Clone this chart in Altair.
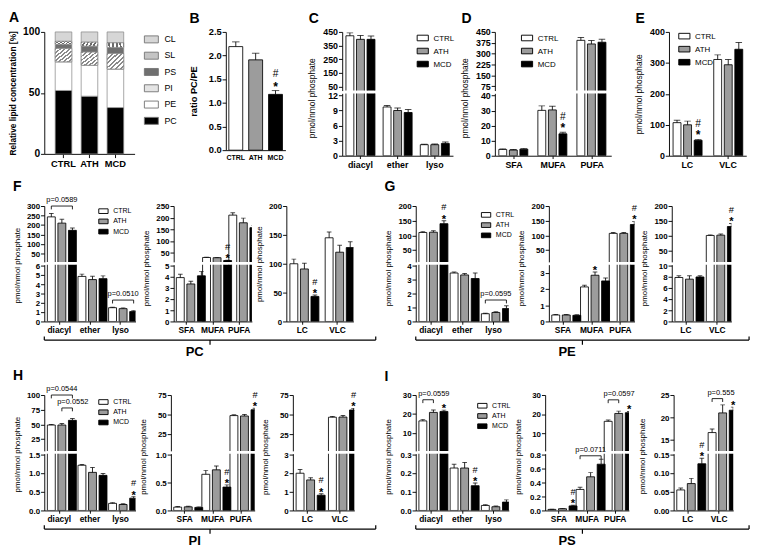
import altair as alt
import pandas as pd

FONT = "Liberation Sans"
GROUPS = ["CTRL", "ATH", "MCD"]
FILLS = ["#ffffff", "#9c9c9c", "#000000"]
YT = "pmol/nmol phosphate"
RECT = "M-1,-0.5H1V0.5H-1Z"

# ---------------- data ----------------
A_samples = ["CTRL", "ATH", "MCD"]
A_classes = ["PC", "PE", "PI", "PS", "SL", "CL"]
A_PC = [52.0, 47.3, 38.0]
A_PE = [23.5, 25.4, 31.6]
A_PI = [11.0, 10.8, 12.7]
A_PS = [3.3, 4.9, 5.0]
A_SL = [2.5, 3.2, 3.8]
A_CL = [7.7, 8.4, 8.9]
A_legend = ["CL", "SL", "PS", "PI", "PE", "PC"]
A_colors = ["#d6d6d6", "#c4c4c4", "#6f6f6f", "#e4e4e4", "#ffffff", "#000000"]
A_ticks = [0, 50, 100]

B_mean = [2.19, 1.91, 1.18]
B_err = [0.10, 0.14, 0.08]
B_marks = [("MCD", "#*")]
B_ticks = [0, 0.5, 1.0, 1.5, 2.0, 2.5]

C_cats = ["diacyl", "ether", "lyso"]
C_CTRL = [422, 9.7, 2.2]
C_ATH = [396, 9.0, 2.2]
C_MCD = [396, 8.6, 2.45]
C_eCTRL = [21, 0.3, 0.1]
C_eATH = [28, 0.5, 0.15]
C_eMCD = [24, 0.6, 0.3]
C_marks = []
C_brackets = []
C_ttop = [50, 150, 250, 350, 450]
C_tbot = [0, 3, 6, 9, 12]

D_cats = ["SFA", "MUFA", "PUFA"]
D_CTRL = [4.2, 30.2, 392]
D_ATH = [3.8, 30.5, 367]
D_MCD = [4.4, 14.6, 379]
D_eCTRL = [0.4, 3.0, 20]
D_eATH = [0.4, 2.5, 24]
D_eMCD = [0.5, 1.0, 20]
D_marks = [("MUFA", "MCD", "#*")]
D_brackets = []
D_ttop = [75, 150, 225, 300, 375, 450]
D_tbot = [0, 10, 20, 30, 40]

E_cats = ["LC", "VLC"]
E_CTRL = [107, 311]
E_ATH = [100, 294]
E_MCD = [50, 344]
E_eCTRL = [8, 15]
E_eATH = [12, 17]
E_eMCD = [3, 22]
E_marks = [("LC", "MCD", "#*")]
E_brackets = []
E_ticks = [0, 100, 200, 300, 400]

F1_cats = ["diacyl", "ether", "lyso"]
F1_CTRL = [243, 4.84, 1.48]
F1_ATH = [210, 4.5, 1.38]
F1_MCD = [172, 4.6, 1.06]
F1_eCTRL = [18, 0.25, 0.05]
F1_eATH = [20, 0.35, 0.08]
F1_eMCD = [12, 0.3, 0.1]
F1_marks = []
F1_brackets = [("diacyl", "CTRL", "MCD", 300, "p=0.0589"), ("lyso", "CTRL", "MCD", 2.3, "p=0.0510")]
F1_ttop = [50, 100, 150, 200, 250, 300]
F1_tbot = [0, 1, 2, 3, 4, 5, 6]

F2_cats = ["SFA", "MUFA", "PUFA"]
F2_CTRL = [3.94, 29, 211]
F2_ATH = [3.37, 28, 178]
F2_MCD = [4.1, 16, 157]
F2_eCTRL = [0.3, 1.5, 10]
F2_eATH = [0.25, 1.5, 20]
F2_eMCD = [0.4, 1.2, 10]
F2_marks = [("MUFA", "MCD", "#*")]
F2_brackets = []
F2_ttop = [50, 100, 150, 200, 250]
F2_tbot = [0, 1, 2, 3, 4, 5]

F3_cats = ["LC", "VLC"]
F3_CTRL = [100, 145]
F3_ATH = [91, 120]
F3_MCD = [43.4, 128]
F3_eCTRL = [8, 10]
F3_eATH = [10, 12]
F3_eMCD = [2.5, 10]
F3_marks = [("LC", "MCD", "#*")]
F3_brackets = []
F3_ticks = [0, 50, 100, 150, 200]

G1_cats = ["diacyl", "ether", "lyso"]
G1_CTRL = [110, 3.5, 0.56]
G1_ATH = [111, 3.36, 0.65]
G1_MCD = [140, 3.1, 0.93]
G1_eCTRL = [3, 0.07, 0.04]
G1_eATH = [5, 0.1, 0.05]
G1_eMCD = [10, 0.4, 0.2]
G1_marks = [("diacyl", "MCD", "#*")]
G1_brackets = [("lyso", "CTRL", "MCD", 1.55, "p=0.0595")]
G1_ttop = [50, 100, 150, 200]
G1_tbot = [0, 1, 2, 3, 4]

G2_cats = ["SFA", "MUFA", "PUFA"]
G2_CTRL = [0.4, 2.13, 107]
G2_ATH = [0.4, 2.85, 107]
G2_MCD = [0.38, 2.5, 137]
G2_eCTRL = [0.03, 0.1, 3]
G2_eATH = [0.03, 0.2, 3]
G2_eMCD = [0.03, 0.18, 10]
G2_marks = [("MUFA", "ATH", "*"), ("PUFA", "MCD", "#*")]
G2_brackets = []
G2_ttop = [50, 100, 150, 200]
G2_tbot = [0, 1, 2, 3]

G3_cats = ["LC", "VLC"]
G3_CTRL = [7.9, 101]
G3_ATH = [7.6, 102]
G3_MCD = [8.0, 131]
G3_eCTRL = [0.3, 2]
G3_eATH = [0.6, 4]
G3_eMCD = [0.2, 10]
G3_marks = [("VLC", "MCD", "#*")]
G3_brackets = []
G3_ttop = [50, 100, 150, 200]
G3_tbot = [0, 2, 4, 6, 8, 10]

H1_cats = ["diacyl", "ether", "lyso"]
H1_CTRL = [49, 1.21, 0.19]
H1_ATH = [49, 1.02, 0.16]
H1_MCD = [57, 0.94, 0.33]
H1_eCTRL = [1, 0.02, 0.02]
H1_eATH = [2.5, 0.13, 0.02]
H1_eMCD = [3, 0.05, 0.04]
H1_marks = [("lyso", "MCD", "#*")]
H1_brackets = [("diacyl", "CTRL", "MCD", 100, "p=0.0544"), ("diacyl", "ATH", "MCD", 78, "p=0.0552")]
H1_ttop = [25, 50, 75, 100]
H1_tbot = [0, 0.5, 1.0, 1.5]

H2_cats = ["SFA", "MUFA", "PUFA"]
H2_CTRL = [0.06, 0.65, 48.5]
H2_ATH = [0.065, 0.73, 48]
H2_MCD = [0.055, 0.42, 56]
H2_eCTRL = [0.01, 0.07, 1]
H2_eATH = [0.01, 0.07, 2]
H2_eMCD = [0.01, 0.04, 2]
H2_marks = [("MUFA", "MCD", "#*"), ("PUFA", "MCD", "#*")]
H2_brackets = []
H2_ttop = [25, 50, 75]
H2_tbot = [0, 0.5, 1.0]

H3_cats = ["LC", "VLC"]
H3_CTRL = [2.0, 46.8]
H3_ATH = [1.64, 47]
H3_MCD = [0.82, 56]
H3_eCTRL = [0.2, 1]
H3_eATH = [0.12, 2]
H3_eMCD = [0.08, 2]
H3_marks = [("LC", "MCD", "#*"), ("VLC", "MCD", "#*")]
H3_brackets = []
H3_ttop = [25, 50, 75]
H3_tbot = [0, 1, 2, 3]

I1_cats = ["diacyl", "ether", "lyso"]
I1_CTRL = [16.3, 0.228, 0.027]
I1_ATH = [20.8, 0.228, 0.02]
I1_MCD = [21.3, 0.133, 0.045]
I1_eCTRL = [0.8, 0.02, 0.004]
I1_eATH = [1.3, 0.03, 0.004]
I1_eMCD = [0.7, 0.015, 0.012]
I1_marks = [("diacyl", "MCD", "*"), ("ether", "MCD", "#*")]
I1_brackets = [("diacyl", "CTRL", "ATH", 27.5, "p=0.0559")]
I1_ttop = [10, 20, 30]
I1_tbot = [0, 0.1, 0.2, 0.3]

I2_cats = ["SFA", "MUFA", "PUFA"]
I2_CTRL = [0.015, 0.3, 16.3]
I2_ATH = [0.025, 0.48, 20.4]
I2_MCD = [0.065, 0.66, 20.8]
I2_eCTRL = [0.003, 0.03, 0.7]
I2_eATH = [0.005, 0.06, 1.2]
I2_eMCD = [0.01, 0.07, 0.6]
I2_marks = [("SFA", "MCD", "#*"), ("PUFA", "MCD", "*")]
I2_brackets = [("MUFA", "CTRL", "MCD", 0.78, "p=0.0711"), ("PUFA", "CTRL", "ATH", 27.5, "p=0.0597")]
I2_ttop = [10, 20, 30]
I2_tbot = [0, 0.2, 0.4, 0.6, 0.8]

I3_cats = ["LC", "VLC"]
I3_CTRL = [0.055, 16.6]
I3_ATH = [0.072, 21.0]
I3_MCD = [0.125, 21.6]
I3_eCTRL = [0.005, 0.8]
I3_eATH = [0.014, 1.8]
I3_eMCD = [0.015, 0.7]
I3_marks = [("LC", "MCD", "#*"), ("VLC", "MCD", "*")]
I3_brackets = [("VLC", "CTRL", "ATH", 24.2, "p=0.555")]
I3_ttop = [15, 20, 25]
I3_tbot = [0, 0.05, 0.10, 0.15]

# ---------------- styles ----------------
ST1 = dict(yl=9.5, yt=9, xl=9.5, ht=63, hb=67, gap=3, star=13, sdy=0, hdy=-13, hash=11,
           leg=8.5, ss=144, rp=2, bl=8, cap=7)
ST2 = dict(yl=8.5, yt=8.5, xl=9, ht=60, hb=61, gap=3, star=12, sdy=2, hdy=-11, hash=10,
           leg=7.5, ss=100, rp=1, bl=8, cap=5)


def indep(c):
    return c.resolve_scale(color="independent", x="independent", y="independent").resolve_legend(color="independent")


def letter(L, off=2):
    return alt.TitleParams(text=L, anchor="start", font=FONT, fontSize=15, fontWeight="bold",
                           color="black", offset=off)


def mk(cats, means, errs, marks, brackets, **kw):
    rows = []
    for g, ms, es in zip(GROUPS, means, errs):
        for c, m, e in zip(cats, ms, es):
            rows.append({"cat": c, "grp": g, "val": m, "hi": m + e})
    p = dict(cats=cats, df=pd.DataFrame(rows), marks=marks, brackets=brackets)
    p.update(kw)
    return p


def leg(x, y, st):
    return alt.Legend(title=None, orient="none", legendX=x, legendY=y, direction="vertical",
                      symbolType=RECT, symbolSize=st["ss"], symbolStrokeColor="black",
                      symbolStrokeWidth=1, symbolOpacity=1, labelFont=FONT,
                      labelFontSize=st["leg"], labelColor="black", rowPadding=st["rp"],
                      labelOffset=5)


def seg(p, dom, ticks, h, show_x, st, fmt=None, legend=None, ytitle=None):
    df = p["df"]
    lo, up = dom
    ysc = alt.Scale(domain=list(dom), nice=False, zero=False)
    ykw = dict(values=list(ticks), title=ytitle, grid=False, labelFont=FONT,
               labelFontSize=st["yl"], labelFontWeight="bold", labelColor="black",
               labelPadding=1, tickSize=4, tickColor="black", tickWidth=1,
               domainColor="black", domainWidth=1, minExtent=p["ext"], maxExtent=p["ext"],
               titleFont=FONT, titleFontSize=st["yt"], titleFontWeight="normal",
               titleColor="black", titlePadding=3)
    if fmt:
        ykw["format"] = fmt
    yax = alt.Axis(**ykw)
    if show_x:
        xax = alt.Axis(labelAngle=0, labelFont=FONT, labelFontSize=st["xl"], labelFontWeight="bold",
                       labelColor="black", labelPadding=2, tickSize=3, tickColor="black",
                       tickWidth=1, domainColor="black", domainWidth=1, grid=False, title=None)
    else:
        xax = None
    X = alt.X("cat:N", sort=p["cats"], title=None,
              scale=alt.Scale(domain=p["cats"], paddingInner=p.get("pin", 0.22),
                              paddingOuter=p.get("pout", 0.1)), axis=xax)
    XO = alt.XOffset("grp:N", sort=GROUPS, scale=alt.Scale(domain=GROUPS, paddingInner=0.25))

    def Y(f):
        return alt.Y(f, scale=ysc, axis=yax)

    col = alt.Color("grp:N", scale=alt.Scale(domain=GROUPS, range=FILLS),
                    legend=legend if legend is not None else None)
    layers = [
        alt.Chart(df[df.val > lo]).mark_bar(stroke="black", strokeWidth=0.9, clip=True).encode(
            x=X, xOffset=XO, y=Y("val:Q"), color=col),
        alt.Chart(df[df.hi > lo]).mark_rule(color="black", strokeWidth=0.9, clip=True).encode(
            x=X, xOffset=XO, y=Y("val:Q"), y2="hi:Q"),
        alt.Chart(df[df.hi > lo]).mark_tick(color="black", thickness=1, size=st["cap"], clip=True).encode(
            x=X, xOffset=XO, y=Y("hi:Q")),
    ]
    md = []
    for c, g, s in p["marks"]:
        r = df[(df.cat == c) & (df.grp == g)].iloc[0]
        if lo <= r.hi <= up:
            md.append({"cat": c, "grp": g, "hi": r.hi, "s": s})
    if md:
        mdf = pd.DataFrame(md)
        layers.append(alt.Chart(mdf).mark_text(font=FONT, fontSize=st["star"], fontWeight="bold",
                                               dy=st["sdy"], baseline="alphabetic", color="black",
                                               text="*").encode(x=X, xOffset=XO, y=Y("hi:Q")))
        hdf = mdf[mdf.s.str.contains("#")]
        if len(hdf):
            layers.append(alt.Chart(hdf).mark_text(font=FONT, fontSize=st["hash"], dy=st["hdy"],
                                                   baseline="alphabetic", color="black",
                                                   text="#").encode(x=X, xOffset=XO, y=Y("hi:Q")))
    bl, bc, bll = [], [], []
    for i, (c, g1, g2, lev, lab) in enumerate(p["brackets"]):
        if not (lo <= lev <= up * 1.001):
            continue
        d = (up - lo) * 0.06
        for o, (g, yv) in enumerate([(g1, lev - d), (g1, lev), (g2, lev), (g2, lev - d)]):
            bl.append({"b": i, "o": o, "cat": c, "grp": g, "y": yv})
        if g1 == "CTRL" and g2 == "MCD":
            bc.append({"cat": c, "grp": "ATH", "y": lev, "lab": lab})
        else:
            bll.append({"cat": c, "grp": g1, "y": lev, "lab": lab})
    if bl:
        layers.append(alt.Chart(pd.DataFrame(bl)).mark_line(color="black", strokeWidth=0.9).encode(
            x=X, xOffset=XO, y=Y("y:Q"), detail="b:N", order="o:Q"))
    if bc:
        layers.append(alt.Chart(pd.DataFrame(bc)).mark_text(font=FONT, fontSize=st["bl"], dy=-2,
                                                            baseline="bottom", color="black").encode(
            x=X, xOffset=XO, y=Y("y:Q"), text="lab:N"))
    if bll:
        layers.append(alt.Chart(pd.DataFrame(bll)).mark_text(font=FONT, fontSize=st["bl"], dy=-2, dx=-5,
                                                             align="left", baseline="bottom",
                                                             color="black").encode(
            x=X, xOffset=XO, y=Y("y:Q"), text="lab:N"))
    return alt.layer(*layers).properties(width=p["w"], height=h)


def broken(p, st, legend=None):
    top = seg(p, p["top"], p["tt"], st["ht"], False, st, p.get("tf"), legend)
    bot = seg(p, p["bot"], p["tb"], st["hb"], True, st, p.get("bf"))
    v = indep(alt.vconcat(top, bot, spacing=st["gap"], bounds="flush"))
    return v.properties(title=alt.TitleParams(text=YT, orient="left", anchor="middle", frame="bounds",
                                              font=FONT, fontSize=st["yt"], fontWeight="normal",
                                              color="black", offset=3))


def wrap(ch, L):
    return indep(alt.vconcat(ch, spacing=0)).properties(title=letter(L))


def bracket(W):
    b = alt.Chart(pd.DataFrame({"k": [0]}))
    parts = [
        b.mark_rule(color="black", strokeWidth=1.3).encode(x=alt.value(0), x2=alt.value(W), y=alt.value(4)),
        b.mark_rule(color="black", strokeWidth=1.3).encode(x=alt.value(0), y=alt.value(0), y2=alt.value(4)),
        b.mark_rule(color="black", strokeWidth=1.3).encode(x=alt.value(W), y=alt.value(0), y2=alt.value(4)),
        b.mark_rule(color="black", strokeWidth=1.3).encode(x=alt.value(W / 2), y=alt.value(4), y2=alt.value(9)),
    ]
    return alt.layer(*parts).properties(width=W, height=9)


def group(panels, L, name, W, off):
    plots = indep(alt.hconcat(*panels, spacing=3)).properties(title=letter(L, off))
    g = indep(alt.vconcat(plots, bracket(W), spacing=1))
    return g.properties(title=alt.TitleParams(text=name, orient="bottom", anchor="middle", font=FONT,
                                              fontSize=14, fontWeight="bold", color="black", offset=0))


# ---------------- panel A ----------------
rowsA = []
for ci, (cls, vals) in enumerate(zip(A_classes, [A_PC, A_PE, A_PI, A_PS, A_SL, A_CL])):
    for s, v in zip(A_samples, vals):
        rowsA.append({"sample": s, "cls": cls, "val": v, "ord": ci})
dfA = pd.DataFrame(rowsA)


def stackA():
    return alt.Chart(dfA).transform_stack(stack="val", groupby=["sample"],
                                          sort=[alt.SortField("ord", order="ascending")],
                                          as_=["y0", "y1"])


def hatch(n, frac, c1, c2):
    stops = []
    for i in range(n):
        a, b, c = i / n, (i + frac) / n, (i + 1) / n
        stops += [{"offset": a, "color": c2}, {"offset": b, "color": c2},
                  {"offset": b, "color": c1}, {"offset": c, "color": c1}]
    return {"gradient": "linear", "x1": 0, "y1": 0, "x2": 1, "y2": 1, "stops": stops}


xA = alt.X("sample:N", sort=A_samples, title=None,
           scale=alt.Scale(domain=A_samples, paddingInner=0.36, paddingOuter=0.42),
           axis=alt.Axis(labelAngle=0, labelFont=FONT, labelFontSize=10, labelFontWeight="bold",
                         labelColor="black", tickSize=4, tickColor="black", domainColor="black",
                         labelPadding=2, title=None))
yA = alt.Y("y1:Q", scale=alt.Scale(domain=[0, 100], nice=False),
           axis=alt.Axis(values=A_ticks, title="Relative lipid concentration [%]", grid=False,
                         labelFont=FONT, labelFontSize=11, labelFontWeight="bold", labelColor="black",
                         tickSize=4, tickColor="black", domainColor="black", labelPadding=1,
                         titleFont=FONT, titleFontSize=9, titleFontWeight="bold", titleColor="black",
                         titlePadding=3, minExtent=26, maxExtent=26))
A_main = stackA().mark_bar(stroke="#8a8a8a", strokeWidth=0.8).encode(
    x=xA, y=yA, y2="y0:Q",
    color=alt.Color("cls:N", scale=alt.Scale(domain=A_legend, range=A_colors),
                    legend=alt.Legend(title=None, orient="right", symbolType=RECT, symbolSize=225,
                                      symbolStrokeColor="#777777", symbolStrokeWidth=1, symbolOpacity=1,
                                      labelFont=FONT, labelFontSize=9.5, labelColor="black",
                                      rowPadding=3.5, offset=10, labelOffset=6)))
A_pi = stackA().transform_filter(alt.datum.cls == "PI").mark_bar(
    fill=hatch(7, 0.45, "#ffffff", "#8a8a8a"), stroke="#8a8a8a", strokeWidth=0.8).encode(x=xA, y=yA, y2="y0:Q")
A_sl = stackA().transform_filter(alt.datum.cls == "SL").mark_bar(
    fill=hatch(9, 0.5, "#ffffff", "#6a6a6a"), stroke="#8a8a8a", strokeWidth=0.8).encode(x=xA, y=yA, y2="y0:Q")
chartA = wrap(alt.layer(A_main, A_pi, A_sl).properties(width=97, height=131), "A")

# ---------------- panel B ----------------
dfB = pd.DataFrame({"grp": GROUPS, "val": B_mean, "hi": [m + e for m, e in zip(B_mean, B_err)]})
dfBm = pd.DataFrame([{"grp": g, "hi": float(dfB[dfB.grp == g].hi.iloc[0])} for g, s in B_marks])
xB = alt.X("grp:N", sort=GROUPS, title=None, scale=alt.Scale(domain=GROUPS, paddingInner=0.3, paddingOuter=0.15),
           axis=alt.Axis(labelAngle=0, labelFont=FONT, labelFontSize=7.5, labelFontWeight="bold",
                         labelColor="black", tickSize=0, domainColor="black", labelPadding=4, title=None))
yBsc = alt.Scale(domain=[0, 2.5], nice=False)
yBax = alt.Axis(values=B_ticks, format=".1f", title="ratio PC/PE", grid=False, labelFont=FONT,
                labelFontSize=10, labelFontWeight="bold", labelColor="black", tickSize=4,
                tickColor="black", domainColor="black", labelPadding=1, titleFont=FONT,
                titleFontSize=10, titleFontWeight="bold", titleColor="black", titlePadding=3,
                minExtent=26, maxExtent=26)
bB = alt.Chart(dfB)
chartB = wrap(alt.layer(
    bB.mark_bar(stroke="black", strokeWidth=0.9).encode(
        x=xB, y=alt.Y("val:Q", scale=yBsc, axis=yBax),
        color=alt.Color("grp:N", scale=alt.Scale(domain=GROUPS, range=FILLS), legend=None)),
    bB.mark_rule(color="black", strokeWidth=0.9).encode(x=xB, y=alt.Y("val:Q", scale=yBsc, axis=yBax), y2="hi:Q"),
    bB.mark_tick(color="black", thickness=1, size=8).encode(x=xB, y=alt.Y("hi:Q", scale=yBsc, axis=yBax)),
    alt.Chart(dfBm).mark_text(font=FONT, fontSize=13, fontWeight="bold", dy=0, baseline="alphabetic",
                              text="*").encode(x=xB, y=alt.Y("hi:Q", scale=yBsc, axis=yBax)),
    alt.Chart(dfBm).mark_text(font=FONT, fontSize=11, dy=-15, baseline="alphabetic",
                              text="#").encode(x=xB, y=alt.Y("hi:Q", scale=yBsc, axis=yBax)),
).properties(width=64, height=127), "B")

# ---------------- panels C, D, E ----------------
pC = mk(C_cats, [C_CTRL, C_ATH, C_MCD], [C_eCTRL, C_eATH, C_eMCD], C_marks, C_brackets,
        top=[22, 450], tt=C_ttop, bot=[0, 12.4], tb=C_tbot, w=119, ext=24)
pD = mk(D_cats, [D_CTRL, D_ATH, D_MCD], [D_eCTRL, D_eATH, D_eMCD], D_marks, D_brackets,
        top=[45, 450], tt=D_ttop, bot=[0, 41.5], tb=D_tbot, w=125, ext=24)
pE = mk(E_cats, [E_CTRL, E_ATH, E_MCD], [E_eCTRL, E_eATH, E_eMCD], E_marks, E_brackets,
        w=83, ext=24, pin=0.3, pout=0.1)

chartC = wrap(broken(pC, ST1, leg(80, 0, ST1)), "C")
chartD = wrap(broken(pD, ST1, leg(28, 0, ST1)), "D")
chartE = wrap(seg(pE, [0, 400], E_ticks, ST1["ht"] + ST1["gap"] + ST1["hb"], True, ST1,
                  legend=leg(10, -2, ST1), ytitle=YT), "E")


# ---------------- rows 2-3 ----------------
def P(pref, **kw):
    g = globals()
    return mk(g[pref + "_cats"], [g[pref + "_CTRL"], g[pref + "_ATH"], g[pref + "_MCD"]],
              [g[pref + "_eCTRL"], g[pref + "_eATH"], g[pref + "_eMCD"]],
              g[pref + "_marks"], g[pref + "_brackets"], **kw)


pF1 = P("F1", top=[6, 300], tt=F1_ttop, bot=[0, 6.1], tb=F1_tbot, w=98, ext=22)
pF2 = P("F2", top=[10, 250], tt=F2_ttop, bot=[0, 5.1], tb=F2_tbot, w=84, ext=22)
pF3 = P("F3", w=72, ext=22, pin=0.3)
pG1 = P("G1", top=[10, 200], tt=G1_ttop, bot=[0, 4.1], tb=G1_tbot, w=100, ext=22)
pG2 = P("G2", top=[10, 200], tt=G2_ttop, bot=[0, 3.5], tb=G2_tbot, w=92, ext=22)
pG3 = P("G3", top=[12, 200], tt=G3_ttop, bot=[0, 10.2], tb=G3_tbot, w=64, ext=22, pin=0.3)
pH1 = P("H1", top=[5, 100], tt=H1_ttop, bot=[0, 1.52], tb=H1_tbot, bf=".1f", w=98, ext=22)
pH2 = P("H2", top=[3, 75], tt=H2_ttop, bot=[0, 1.02], tb=H2_tbot, bf=".1f", w=90, ext=22)
pH3 = P("H3", top=[4, 75], tt=H3_ttop, bot=[0, 3.05], tb=H3_tbot, w=66, ext=22, pin=0.3)
pI1 = P("I1", top=[0.4, 30], tt=I1_ttop, bot=[0, 0.305], tb=I1_tbot, bf=".1f", w=100, ext=22)
pI2 = P("I2", top=[0.9, 30], tt=I2_ttop, bot=[0, 0.81], tb=I2_tbot, bf=".1f", w=90, ext=22)
pI3 = P("I3", top=[12.5, 25], tt=I3_ttop, bot=[0, 0.152], tb=I3_tbot, bf=".2f", w=64, ext=26, pin=0.3)

H2SEG = ST2["ht"] + ST2["gap"] + ST2["hb"]
F = group([broken(pF1, ST2, leg(58, 0, ST2)), broken(pF2, ST2),
           seg(pF3, [0, 200], F3_ticks, H2SEG, True, ST2, ytitle=YT)], "F", "PC", 356, 3)
G = group([broken(pG1, ST2, leg(70, 4, ST2)), broken(pG2, ST2), broken(pG3, ST2)], "G", "PE", 358, 9)
H = group([broken(pH1, ST2, leg(58, 2, ST2)), broken(pH2, ST2), broken(pH3, ST2)], "H", "PI", 356, 3)
I = group([broken(pI1, ST2, leg(66, 6, ST2)), broken(pI2, ST2), broken(pI3, ST2)], "I", "PS", 358, 6)

r1 = indep(alt.hconcat(chartA, chartB, spacing=13))
r1 = indep(alt.hconcat(r1, chartC, spacing=25))
r1 = indep(alt.hconcat(r1, chartD, spacing=7))
row1 = indep(alt.hconcat(r1, chartE, spacing=26))
row2 = indep(alt.hconcat(F, G, spacing=8))
row3 = indep(alt.hconcat(H, I, spacing=8))

chart = indep(alt.vconcat(row1, row2, row3, spacing=11)).properties(
    padding={"left": 0, "right": 0, "top": -18, "bottom": 0},
    background="white").configure_view(stroke=None)

chart.save("out.html", embed_options={"renderer": "svg", "actions": False})
